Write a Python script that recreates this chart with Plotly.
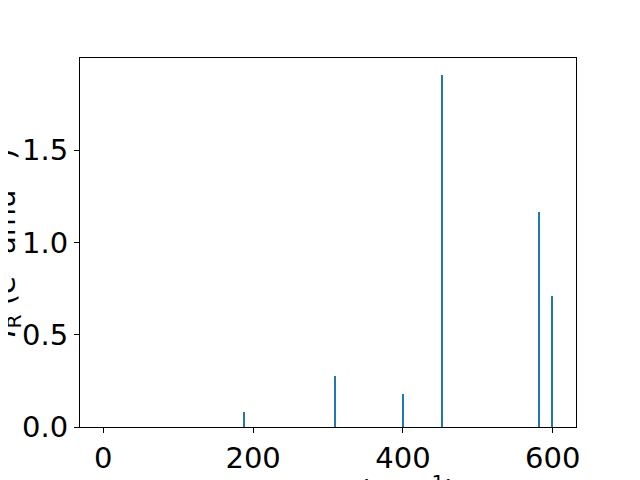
import plotly.graph_objects as go

frequencies = [188.5, 310.0, 399.5, 452.5, 581.7, 599.3]
intensities = [0.081, 0.276, 0.179, 1.906, 1.168, 0.709]
bar_widths = [1.4, 1.4, 1.4, 2.7, 2.7, 1.4]

x_ticks = [0, 200, 400, 600]
y_ticks = [0.0, 0.5, 1.0, 1.5]

font = "DejaVu Sans"
fsize = 29

fig = go.Figure()
fig.add_trace(go.Bar(x=frequencies, y=intensities, width=bar_widths,
                     marker=dict(color="#1f77b4", line=dict(width=0))))

axis_common = dict(showgrid=False, zeroline=False, showline=True, linecolor="black",
                   linewidth=1, mirror=True, ticks="outside", ticklen=5, tickwidth=1,
                   tickcolor="black", tickfont=dict(family=font, size=fsize, color="black"))

fig.update_xaxes(range=[-31.1, 631.1], tickvals=x_ticks, ticktext=[str(v) for v in x_ticks],
                 **axis_common)
fig.update_yaxes(range=[0, 2.0], tickvals=y_ticks, ticktext=[f"{v:.1f}" for v in y_ticks],
                 **axis_common)

fig.add_annotation(text="Frequency (cm<sup>−1</sup>)", xref="paper", yref="paper",
                   x=0.5, y=-0.111, xanchor="center", yanchor="top", showarrow=False,
                   font=dict(family=font, size=fsize, color="black"))
fig.add_annotation(text="<i>I</i><sub>R</sub> (e<sup>2</sup> amu<sup>−1</sup>)", xref="paper", yref="paper",
                   x=-0.152, y=0.5, xanchor="center", yanchor="middle", textangle=-90,
                   showarrow=False, font=dict(family=font, size=fsize, color="black"))

fig.update_layout(width=640, height=480, margin=dict(l=72, r=72, t=50, b=61, autoexpand=False),
                  paper_bgcolor="white", plot_bgcolor="white", showlegend=False,
                  bargap=0)

fig.write_html("out.html")
